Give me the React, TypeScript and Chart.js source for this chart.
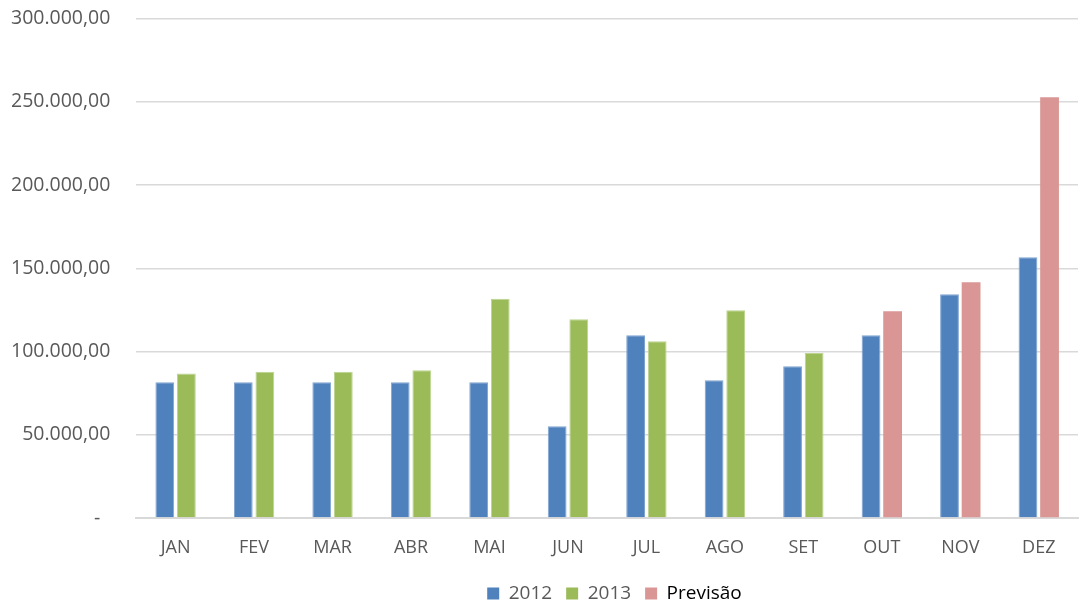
import React, { useEffect, useRef } from "react";
import { Chart, registerables } from "chart.js";

Chart.register(...registerables);

const months = ["JAN", "FEV", "MAR", "ABR", "MAI", "JUN", "JUL", "AGO", "SET", "OUT", "NOV", "DEZ"];
const values2012 = [81600, 81600, 81600, 81600, 81600, 55200, 109800, 82800, 91200, 109800, 134400, 156600];
const values2013 = [86800, 87800, 87800, 88800, 131800, 119400, 106200, 124800, 99200, null, null, null];
const valuesPrevisao = [null, null, null, null, null, null, null, null, null, 124200, 141600, 252800];
const yTicks = [0, 50000, 100000, 150000, 200000, 250000, 300000];

function fmt(v: number): string {
  if (v === 0) return "-  ";
  const s = Math.round(v).toString().replace(/\B(?=(\d{3})+(?!\d))/g, ".");
  return s + ",00";
}

const FONT = "'Open Sans', 'DejaVu Sans', sans-serif";

const legendShift = {
  id: "legendShift",
  afterLayout(chart: any) {
    const lg = chart.legend;
    if (!lg) return;
    const dx = 83;
    const dy = -8;
    lg.left += dx;
    lg.right += dx;
    lg.top += dy;
    lg.bottom += dy;
  },
};

export default function App() {
  const ref = useRef<HTMLCanvasElement | null>(null);
  useEffect(() => {
    if (!ref.current) return;
    const chart = new Chart(ref.current, {
      type: "bar",
      data: {
        labels: months,
        datasets: [
          { label: "2012", data: values2012, backgroundColor: "#4F81BD", borderColor: "#7FA3D0", borderWidth: 1 },
          { label: "2013", data: values2013 as any, backgroundColor: "#9BBB59", borderColor: "#BCD48F", borderWidth: 1 },
          { label: "Previsão", data: valuesPrevisao as any, backgroundColor: "#D99694", borderColor: "#D99694", borderWidth: 0 },
        ],
      },
      plugins: [legendShift],
      options: {
        animation: false,
        responsive: true,
        maintainAspectRatio: false,
        skipNull: true,
        categoryPercentage: 0.55,
        barPercentage: 0.87,
        layout: { padding: { top: 7, right: 8, left: 0, bottom: 0 } },
        plugins: {
          tooltip: { enabled: false },
          legend: {
            position: "bottom",
            labels: {
              boxWidth: 12,
              boxHeight: 12,
              padding: 14,
              font: { family: FONT, size: 19, lineHeight: 1 },
              generateLabels: (c: any) => {
                const items = Chart.defaults.plugins.legend.labels.generateLabels(c);
                return items.map((it: any, i: number) => ({
                  ...it,
                  lineWidth: 0,
                  fontColor: i === 2 ? "#000000" : "#595959",
                }));
              },
            },
          },
        },
        scales: {
          x: {
            grid: { display: false, drawTicks: false },
            border: { color: "#D9D9D9", width: 2 },
            ticks: { color: "#595959", font: { family: FONT, size: 18, lineHeight: 1 }, padding: 21 },
          },
          y: {
            min: 0,
            max: 300000,
            afterBuildTicks: (axis: any) => {
              axis.ticks = yTicks.map((v) => ({ value: v }));
            },
            grid: { color: "#D9D9D9", lineWidth: 1.5, drawTicks: false },
            border: { display: false },
            ticks: {
              color: "#595959",
              font: { family: FONT, size: 19.5 },
              padding: 26,
              callback: (v: any) => fmt(Number(v)),
            },
          },
        },
      } as any,
    });
    return () => chart.destroy();
  }, []);
  return (
    <div style={{ position: "fixed", left: -15, top: -19, width: 1101, height: 640 }}>
      <canvas ref={ref} />
    </div>
  );
}
